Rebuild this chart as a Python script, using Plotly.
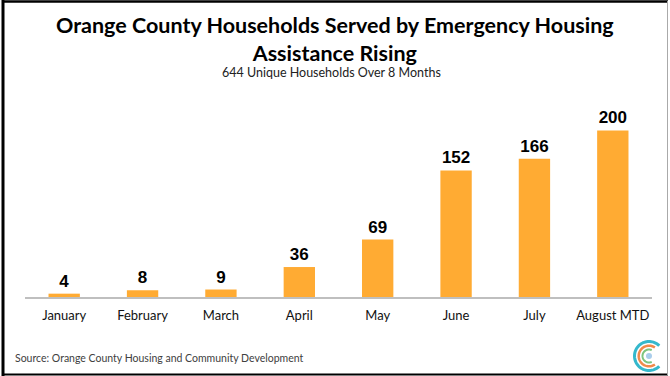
import numpy as np
import plotly.graph_objects as go

months = ["January", "February", "March", "April", "May", "June", "July", "August MTD"]
households = [4, 8, 9, 36, 69, 152, 166, 200]
title_text = "Orange County Households Served by Emergency Housing<br>Assistance Rising"
subtitle_text = "644 Unique Households Over 8 Months"
source_text = "Source: Orange County Housing and Community Development"

W, H = 670, 376
L, R, T, B = 25, 18, 100, 79
PW, PH = W - L - R, H - T - B

def px(x):
    return (x - L) / PW

def py(y):
    return (H - B - y) / PH

fig = go.Figure(go.Bar(
    x=months, y=households,
    marker=dict(color="#FFAB33", line=dict(width=0)),
    width=0.4,
    text=households, textposition="outside", cliponaxis=False,
    textfont=dict(family="Liberation Sans, Arial", size=17, color="#000000", weight="bold"),
))

shapes = []
# frame
shapes.append(dict(type="line", xref="paper", yref="paper", x0=px(3), x1=px(3), y0=py(0), y1=py(376), line=dict(color="#000", width=3)))
shapes.append(dict(type="line", xref="paper", yref="paper", x0=px(2), x1=px(668), y0=py(1.5), y1=py(1.5), line=dict(color="#000", width=2.5)))
shapes.append(dict(type="line", xref="paper", yref="paper", x0=px(2), x1=px(668), y0=py(374.5), y1=py(374.5), line=dict(color="#000", width=2)))
shapes.append(dict(type="line", xref="paper", yref="paper", x0=px(667.5), x1=px(667.5), y0=py(1), y1=py(375), line=dict(color="#AAAAAA", width=1)))

# logo arcs
cx, cy = 649, 356
def arc(r, a0, a1, color, w):
    ang = np.radians(np.linspace(a0, a1, 60))
    pts = [(px(cx + r*np.cos(a)), py(cy - r*np.sin(a))) for a in ang]
    path = "M " + " L ".join(f"{x:.5f},{y:.5f}" for x, y in pts)
    return dict(type="path", xref="paper", yref="paper", path=path, line=dict(color=color, width=w))
shapes.append(arc(14.5, 45, 315, "#35B8CC", 3))
shapes.append(arc(10.3, 55, 305, "#F08A4B", 2.5))
shapes.append(arc(6.5, 65, 295, "#7DC47E", 2))
shapes.append(dict(type="circle", xref="paper", yref="paper", x0=px(cx-3), x1=px(cx+3), y0=py(cy+3), y1=py(cy-3), fillcolor="#A9CDEB", line=dict(width=0)))

annotations = [
    dict(text="<b>" + title_text + "</b>", x=px(335), y=py(39.5), xref="paper", yref="paper",
         showarrow=False, xanchor="center", yanchor="middle",
         font=dict(family="Lato", size=21.5, color="#000"), align="center"),
    dict(text=subtitle_text, x=px(331), y=py(73), xref="paper", yref="paper",
         showarrow=False, xanchor="center", yanchor="middle",
         font=dict(family="Lato", size=12.5, color="#222")),
    dict(text=source_text, x=px(13), y=py(358), xref="paper", yref="paper",
         showarrow=False, xanchor="left", yanchor="middle",
         font=dict(family="Lato", size=10.5, color="#404040")),
]

fig.update_layout(
    width=W, height=H,
    margin=dict(l=L, r=R, t=T, b=B, pad=0),
    paper_bgcolor="#FFFFFF", plot_bgcolor="#FFFFFF",
    showlegend=False,
    shapes=shapes, annotations=annotations,
    bargap=0.6,
    xaxis=dict(showline=True, linecolor="#BFBFBF", linewidth=2, ticks="", showgrid=False,
               ticklabelstandoff=5,
               tickfont=dict(family="Lato", size=13, color="#111"), fixedrange=True),
    yaxis=dict(range=[0, 236.6], visible=False, showgrid=False, zeroline=False, fixedrange=True),
)

fig.write_html("out.html", config={"displayModeBar": False},
               post_script="document.body.style.margin='0';document.body.style.padding='0';")
